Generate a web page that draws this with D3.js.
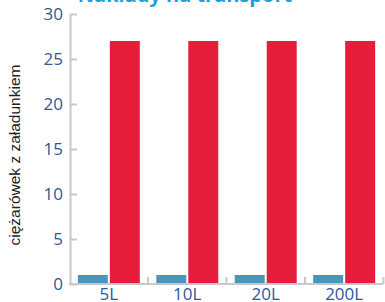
<!doctype html>
<html>
<head>
<style>
  body { margin: 0; background: #fff; font-family: "Open Sans", sans-serif; }
  svg { display: block; }
</style>
<script src="https://d3js.org/d3.v7.min.js"></script>
</head>
<body>
<div id="chart"></div>
<script>
var categories = ["5L", "10L", "20L", "200L"];
var seriesNames = ["a", "b"];
var blueValues = [1, 1, 1, 1];
var redValues = [27, 27, 27, 27];
var yTicks = [0, 5, 10, 15, 20, 25, 30];

var width = 385, height = 302;
var margin = {top: 14, right: 2, bottom: 18, left: 70};

var svg = d3.select("#chart").append("svg")
  .attr("width", width).attr("height", height);

var x = d3.scaleBand()
  .domain(categories)
  .range([margin.left, width - margin.right])
  .paddingInner(0.21)
  .paddingOuter(0.1);

var xSub = d3.scaleBand()
  .domain(seriesNames)
  .range([0, x.bandwidth()])
  .paddingInner(0.0625);

var y = d3.scaleLinear()
  .domain([0, 30])
  .range([height - margin.bottom, margin.top]);

// title (cut off at the top)
svg.append("text")
  .attr("x", 185).attr("y", 2)
  .attr("text-anchor", "middle")
  .style("font-size", "20px").style("font-weight", "bold")
  .style("fill", "#1ba1dc")
  .text("Nakłady na transport");

// bars
var data = categories.map(function(c, i) {
  return {cat: c, vals: [{k: "a", v: blueValues[i]}, {k: "b", v: redValues[i]}]};
});
var g = svg.selectAll("g.grp").data(data).enter().append("g")
  .attr("transform", function(d) { return "translate(" + x(d.cat) + ",0)"; });
g.selectAll("rect").data(function(d) { return d.vals; }).enter().append("rect")
  .attr("x", function(d) { return xSub(d.k); })
  .attr("width", xSub.bandwidth())
  .attr("y", function(d) { return y(d.v); })
  .attr("height", function(d) { return y(0) - y(d.v); })
  .attr("fill", function(d) { return d.k == "a" ? "#4a95b9" : "#e61e3c"; });

// y axis
var yAxis = svg.append("g")
  .attr("transform", "translate(" + margin.left + ",0)")
  .call(d3.axisLeft(y).tickValues(yTicks).tickSize(-7).tickPadding(7).tickSizeOuter(0));
yAxis.select(".domain").attr("stroke", "#c8c8c8").attr("stroke-width", 2);
yAxis.selectAll(".tick line").attr("stroke", "#c8c8c8").attr("stroke-width", 2);
yAxis.selectAll(".tick text")
  .style("font-size", "17px").style("fill", "#2b5a98").style("font-family", "Open Sans");

// x axis
var step = x.step();
var xa = svg.append("g").attr("transform", "translate(0," + y(0) + ")");
xa.append("line")
  .attr("x1", margin.left - 1).attr("x2", width - margin.right)
  .attr("stroke", "#c8c8c8").attr("stroke-width", 2);
xa.selectAll("line.tk").data(categories).enter().append("line")
  .attr("x1", function(d) { return x(d) + x.bandwidth() + step * x.paddingInner() / 2; })
  .attr("x2", function(d) { return x(d) + x.bandwidth() + step * x.paddingInner() / 2; })
  .attr("y1", 0).attr("y2", -7)
  .attr("stroke", "#c8c8c8").attr("stroke-width", 2);
xa.selectAll("text").data(categories).enter().append("text")
  .attr("x", function(d) { return x(d) + x.bandwidth() / 2; })
  .attr("y", 15.5)
  .attr("text-anchor", "middle")
  .style("font-size", "17px").style("fill", "#2b5a98")
  .text(function(d) { return d; });

// y label
svg.append("text")
  .attr("transform", "translate(20,155) rotate(-90)")
  .attr("text-anchor", "middle")
  .style("font-size", "15.5px").style("fill", "#222")
  .style("font-family", "Liberation Sans")
  .text("ciężarówek z załadunkiem");
</script>
</body>
</html>
